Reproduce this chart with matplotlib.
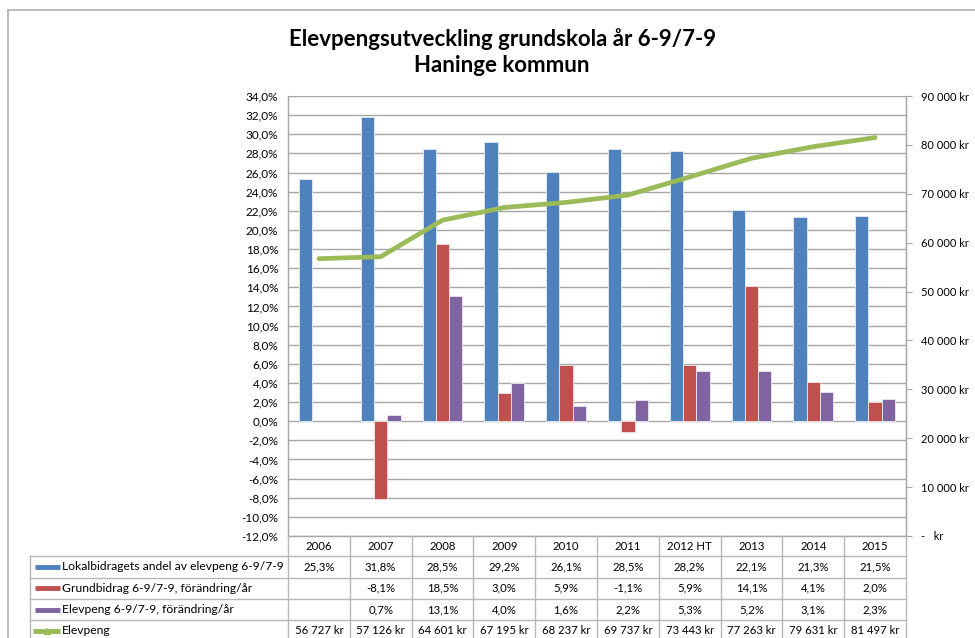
import matplotlib
matplotlib.use("Agg")
import matplotlib.pyplot as plt
import numpy as np
from matplotlib.transforms import blended_transform_factory
from matplotlib.lines import Line2D
from matplotlib.ticker import FuncFormatter, MultipleLocator

plt.rcParams['font.family'] = ['Lato', 'DejaVu Sans']

# ---------------- data ----------------
years = ["2006", "2007", "2008", "2009", "2010", "2011", "2012 HT", "2013", "2014", "2015"]
lokal_andel = [25.3, 31.8, 28.5, 29.2, 26.1, 28.5, 28.2, 22.1, 21.3, 21.5]
grund_forandring = [np.nan, -8.1, 18.5, 3.0, 5.9, -1.1, 5.9, 14.1, 4.1, 2.0]
elev_forandring = [np.nan, 0.7, 13.1, 4.0, 1.6, 2.2, 5.3, 5.2, 3.1, 2.3]
elevpeng = [56727, 57126, 64601, 67195, 68237, 69737, 73443, 77263, 79631, 81497]

series_names = ["Lokalbidragets andel av elevpeng 6-9/7-9",
                "Grundbidrag 6-9/7-9, förändring/år",
                "Elevpeng 6-9/7-9, förändring/år",
                "Elevpeng"]
title = "Elevpengsutveckling grundskola år 6-9/7-9\nHaninge kommun"

C_BLUE, C_RED, C_PURPLE, C_GREEN = "#4F81BD", "#C0504D", "#8064A2", "#9BBB59"
GRID = "#a6a6a6"

W, H = 975, 638
fig = plt.figure(figsize=(W / 100, H / 100), dpi=100)


def rect(x0, y0, x1, y1):
    return [x0 / W, 1 - y1 / H, (x1 - x0) / W, (y1 - y0) / H]


def fy(ypx):
    return 1 - ypx / H


# chart area border
fig.add_artist(Line2D([8 / W, 1.0], [fy(10), fy(10)], color="#b0b0b0", lw=1.2))
fig.add_artist(Line2D([8 / W, 8 / W], [fy(10), 0.0], color="#b0b0b0", lw=1.2))

ax = fig.add_axes(rect(288, 96, 906, 536))
x = np.arange(len(years))
bw = 0.215

ax.bar(x - bw, lokal_andel, bw, color=C_BLUE, edgecolor="#dce6f2", linewidth=0.7, zorder=3)
ax.bar(x, grund_forandring, bw, color=C_RED, edgecolor="#f2dcdb", linewidth=0.7, zorder=3)
ax.bar(x + bw, elev_forandring, bw, color=C_PURPLE, edgecolor="#e5e0ec", linewidth=0.7, zorder=3)

ax.set_xlim(-0.5, len(years) - 0.5)
ax.set_ylim(-12, 34)
ax.yaxis.set_major_locator(MultipleLocator(2))
ax.yaxis.set_major_formatter(FuncFormatter(lambda v, p: f"{v:.1f}%".replace(".", ",")))
ax.grid(axis="y", color=GRID, lw=1.0, zorder=0)
ax.set_axisbelow(True)
ax.set_xticks([])
ax.tick_params(axis="y", length=0, labelsize=8.5, pad=7)
ax.spines["top"].set_visible(False)
for s in ["left", "bottom", "right"]:
    ax.spines[s].set_color(GRID)
    ax.spines[s].set_linewidth(1.0)

ax2 = ax.twinx()
ax2.plot(x, elevpeng, color=C_GREEN, lw=3.4, solid_capstyle="round", solid_joinstyle="round")
ax2.set_ylim(0, 90000)
ax2.yaxis.set_major_locator(MultipleLocator(10000))


def krfmt(v, p):
    if abs(v) < 1e-6:
        return "-   kr"
    return f"{v:,.0f}".replace(",", " ") + " kr"


ax2.yaxis.set_major_formatter(FuncFormatter(krfmt))
ax2.tick_params(axis="y", length=4, color=GRID, labelsize=8, pad=7)
for s in ["top", "left", "bottom"]:
    ax2.spines[s].set_visible(False)
ax2.spines["right"].set_color(GRID)

fig.text(0.515, fy(52), title, ha="center", va="center", fontsize=16,
         fontweight="bold", linespacing=1.3)

# ---------------- data table ----------------
tr = blended_transform_factory(ax.transData, fig.transFigure)
trA = blended_transform_factory(ax.transAxes, fig.transFigure)
rows_y = [536, 556, 577.5, 599, 620, 641]
lab_x0 = (30 - 288) / 618.0
TL = "#b8b8b8"

for b in np.arange(len(years) + 1) - 0.5:
    fig.add_artist(Line2D([b, b], [fy(rows_y[0]), fy(rows_y[-1])], transform=tr,
                          color=TL, lw=1.0))
fig.add_artist(Line2D([lab_x0, lab_x0], [fy(rows_y[1]), fy(rows_y[-1])], transform=trA,
                      color=TL, lw=1.0))
for yy in rows_y[1:-1]:
    fig.add_artist(Line2D([lab_x0, 1.0], [fy(yy), fy(yy)], transform=trA, color=TL, lw=1.0))

for i, yr in enumerate(years):
    fig.text(i, fy((rows_y[0] + rows_y[1]) / 2), yr, transform=tr, ha="center",
             va="center", fontsize=8.2)


def pct(v):
    if np.isnan(v):
        return ""
    return f"{v:.1f}%".replace(".", ",")


def kr(v):
    return f"{v:,.0f}".replace(",", " ") + " kr"


table_rows = [[pct(v) for v in lokal_andel],
              [pct(v) for v in grund_forandring],
              [pct(v) for v in elev_forandring],
              [kr(v) for v in elevpeng]]
colors = [C_BLUE, C_RED, C_PURPLE, C_GREEN]

for r, (vals, name, col) in enumerate(zip(table_rows, series_names, colors)):
    yc = fy((rows_y[r + 1] + rows_y[r + 2]) / 2)
    for i, s in enumerate(vals):
        fig.text(i, yc, s, transform=tr, ha="center", va="center", fontsize=8.2)
    sx0 = (35 - 288) / 618.0
    sx1 = (60 - 288) / 618.0
    if r < 3:
        fig.add_artist(Line2D([sx0, sx1], [yc, yc], transform=trA, color=col, lw=3.5,
                              solid_capstyle="butt"))
    else:
        fig.add_artist(Line2D([sx0 - 0.004, sx1], [yc, yc], transform=trA, color=col, lw=3.5,
                              solid_capstyle="butt"))
        fig.add_artist(Line2D([(sx0 + sx1) / 2], [yc], transform=trA, color=col,
                              marker="^", markersize=5, lw=0))
    fig.text((62 - 288) / 618.0, yc, name, transform=trA, ha="left", va="center",
             fontsize=8.7)

fig.savefig("out.png", dpi=100)
